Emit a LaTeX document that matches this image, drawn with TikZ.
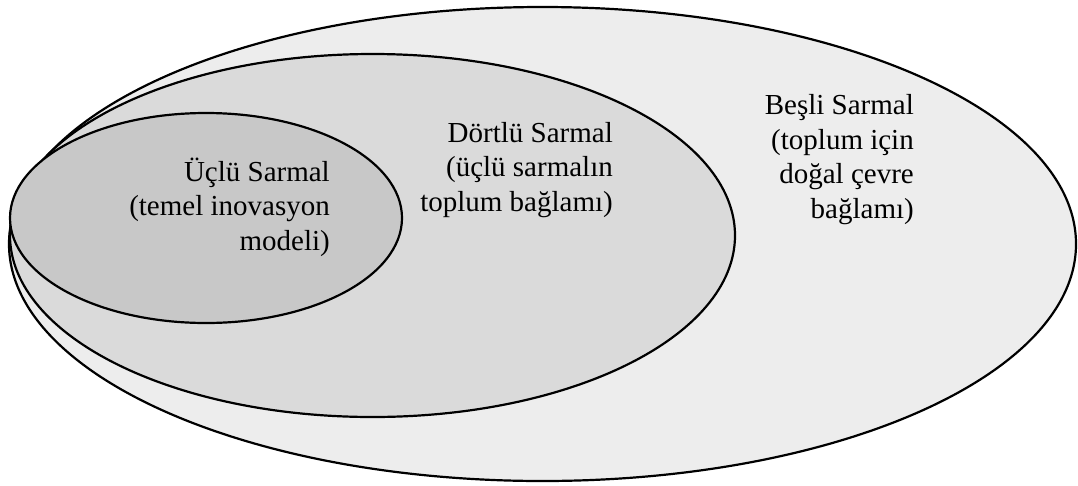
\documentclass[tikz,border=0pt]{standalone}
\usepackage{fontspec}
\setmainfont{Liberation Serif}
\usepackage{tikz}
\usetikzlibrary{shapes.geometric, positioning}
\definecolor{besliFill}{HTML}{EDEDED}
\definecolor{dortluFill}{HTML}{DADADA}
\definecolor{ucluFill}{HTML}{C8C8C8}
\tikzset{helix/.style={ellipse, draw, line width=2.2pt, inner sep=0pt},
         lbl/.style={align=right, anchor=base east, inner sep=0pt,
                     font=\fontsize{29}{34.5}\selectfont}}

\begin{document}
\begin{tikzpicture}[x=1pt,y=-1pt]
        \useasboundingbox (0,0) rectangle (1078,485);
        \node[helix, fill=besliFill, minimum width=1067pt, minimum height=474pt] (besli) at (542.5,244) {};
        \node[helix, fill=dortluFill, minimum width=725pt, minimum height=363pt] (dortlu) at (372.5,235.5) {};
        \node[helix, fill=ucluFill, minimum width=392pt, minimum height=210pt] (uclu) at (206,218) {};
        \node[lbl] (tUclu) at (330,250) {Üçlü Sarmal\\(temel inovasyon\\modeli)};
        \node[lbl] (tDortlu) at (613,211) {Dörtlü Sarmal\\(üçlü sarmalın\\toplum bağlamı)};
        \node[lbl] (tBesli) at (914,218) {Beşli Sarmal\\(toplum için\\doğal çevre\\bağlamı)};
    \end{tikzpicture}
\end{document}
